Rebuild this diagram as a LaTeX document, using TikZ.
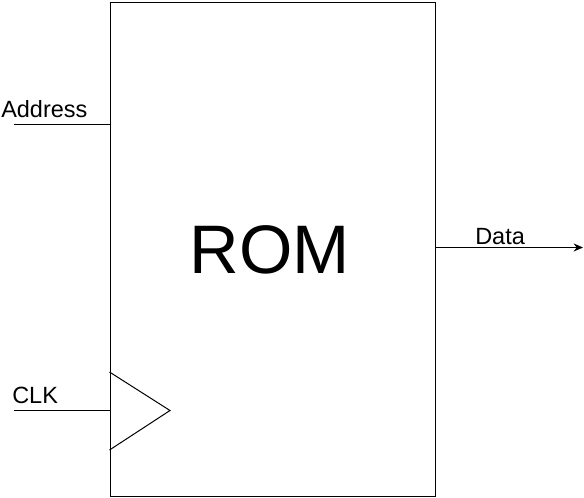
\documentclass[tikz,border=0pt]{standalone}
\usepackage{fontspec}
\setmainfont{Liberation Sans}
\usetikzlibrary{arrows.meta}
\begin{document}
\begin{tikzpicture}[x=0.75pt,y=-0.75pt,
  wire/.style={line width=0.75pt,draw=black},
  lbl/.style={inner sep=0pt,anchor=base west,font=\fontsize{17.6}{19}\selectfont},
  big/.style={inner sep=0pt,anchor=base,font=\fontsize{51.5}{56}\selectfont}]
\useasboundingbox (0,0) rectangle (584,497);
% main block
\node[draw,line width=0.75pt,minimum width=325*0.75pt,minimum height=494*0.75pt,inner sep=0pt,anchor=north west] (rom) at (109.5,1.5) {};
\node[big] (romlbl) at (270,273) {ROM};
% address
\coordinate (addrin) at (14,124.5);
\coordinate (addrend) at (109.5,124.5);
\draw[wire] (addrin) -- (addrend);
\node[lbl] (addr) at (1,117.5) {Address};
% clk
\coordinate (clkin) at (14,410.5);
\coordinate (clkend) at (109.5,410.5);
\draw[wire] (clkin) -- (clkend);
\node[lbl] (clk) at (12,403.5) {CLK};
\coordinate (tt) at (109.5,372);
\coordinate (tp) at (170,410.5);
\coordinate (tb) at (109.5,450);
\draw[line width=0.75pt,line join=miter] (tt) -- (tp) -- (tb);
% data
\coordinate (dataout) at (583,247.5);
\draw[wire,-{Stealth[length=7,width=6]}] (rom.east |- dataout) -- (dataout);
\node[lbl] (data) at (475,244.5) {Data};
\end{tikzpicture}
\end{document}
